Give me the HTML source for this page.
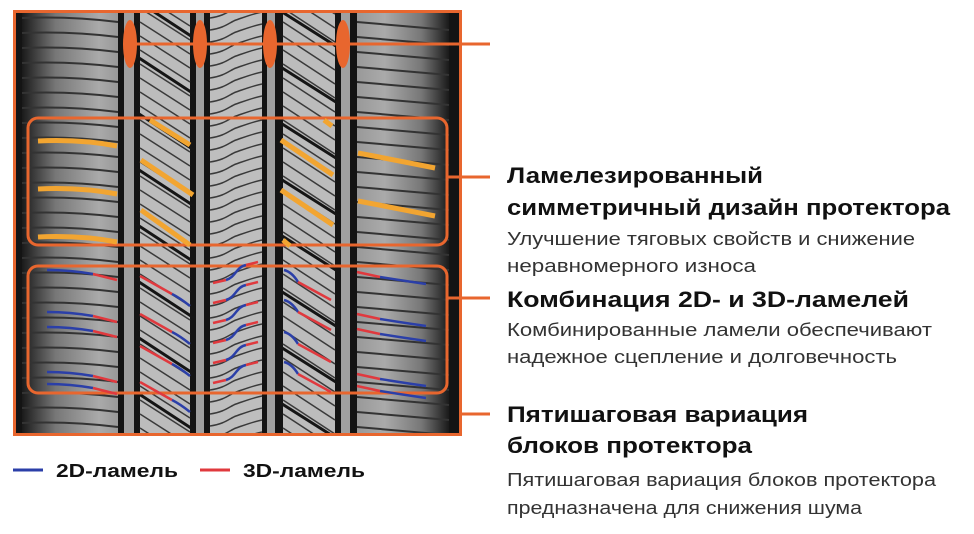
<!DOCTYPE html>
<html><head><meta charset="utf-8"><style>
html,body{margin:0;padding:0;background:#fff;width:974px;height:534px;overflow:hidden}
svg{display:block}
.h{font-family:"Liberation Sans","Noto Sans CJK SC",sans-serif;font-weight:bold;font-size:22px;fill:#111}
.s{font-family:"Liberation Sans","Noto Sans CJK SC",sans-serif;font-size:18px;fill:#333}
.l{font-family:"Liberation Sans","Noto Sans CJK SC",sans-serif;font-weight:bold;font-size:18px;fill:#111}
</style></head><body>
<svg id="sv" width="974" height="534" viewBox="0 0 974 534" xmlns="http://www.w3.org/2000/svg">
<defs>
<linearGradient id="shL" x1="0" x2="1"><stop offset="0" stop-color="#1a1a1a"/><stop offset="0.35" stop-color="#777"/><stop offset="0.8" stop-color="#aaa"/><stop offset="1" stop-color="#999"/></linearGradient>
<linearGradient id="shR" x1="0" x2="1"><stop offset="0" stop-color="#999"/><stop offset="0.3" stop-color="#aaa"/><stop offset="0.7" stop-color="#777"/><stop offset="1" stop-color="#1a1a1a"/></linearGradient>
<clipPath id="cp"><rect x="15" y="12" width="446" height="422"/></clipPath>
</defs>
<g clip-path="url(#cp)" id="tire">
<rect x="13" y="10" width="450" height="426" fill="#141414"/>
<rect x="22" y="10" width="96" height="426" fill="url(#shL)"/>
<rect x="357" y="10" width="92" height="426" fill="url(#shR)"/>
<rect x="140" y="10" width="50" height="426" fill="#bcbcbc"/>
<rect x="210" y="10" width="52" height="426" fill="#bebebe"/>
<rect x="283" y="10" width="52" height="426" fill="#bcbcbc"/>
<rect x="124" y="10" width="10" height="426" fill="#a0a0a0"/>
<rect x="196" y="10" width="8" height="426" fill="#a0a0a0"/>
<rect x="267" y="10" width="8" height="426" fill="#a0a0a0"/>
<rect x="341" y="10" width="9" height="426" fill="#a0a0a0"/>
</g>
<rect x="14.5" y="11.5" width="446" height="423" fill="none" stroke="#e8662e" stroke-width="3"/>
<g id="ov" fill="#e8662e">
<ellipse cx="130" cy="44" rx="7" ry="24"/><ellipse cx="200" cy="44" rx="7" ry="24"/><ellipse cx="270" cy="44" rx="7" ry="24"/><ellipse cx="343" cy="44" rx="7" ry="24"/>
</g>
<g stroke="#e8662e" stroke-width="3" fill="none">
<line x1="130" y1="44" x2="490" y2="44"/>
<rect x="28" y="118" width="419" height="127" rx="10"/>
<line x1="447" y1="177" x2="490" y2="177"/>
<rect x="28" y="266" width="419" height="127" rx="10"/>
<line x1="447" y1="298" x2="490" y2="298"/>
<line x1="462" y1="414" x2="490" y2="414"/>
</g>
<g id="yel" stroke="#f2a531" stroke-width="5" fill="none" stroke-linecap="butt">
<path d="M38 141 Q80 139 117 146"/><path d="M38 189 Q80 187 117 194"/><path d="M38 237 Q80 235 117 242"/>
<path d="M358 153 Q395 160 435 168"/><path d="M358 201 Q395 208 435 216"/>
<path d="M150 120 L190 145"/><path d="M141 160 L193 195"/><path d="M141 210 L190 245"/>
<path d="M281 140 L333 175"/><path d="M281 190 L333 225"/><path d="M324 120 L332 126"/><path d="M283 240 L290 246"/>
</g>
<g class="t">
<text class="h" x="507" y="183" textLength="256" lengthAdjust="spacingAndGlyphs">Ламелезированный</text>
<text class="h" x="507" y="215" textLength="443" lengthAdjust="spacingAndGlyphs">симметричный дизайн протектора</text>
<text class="s" x="507" y="245" textLength="408" lengthAdjust="spacingAndGlyphs">Улучшение тяговых свойств и снижение</text>
<text class="s" x="507" y="272" textLength="249" lengthAdjust="spacingAndGlyphs">неравномерного износа</text>
<text class="h" x="507" y="307" textLength="402" lengthAdjust="spacingAndGlyphs">Комбинация 2D- и 3D-ламелей</text>
<text class="s" x="507" y="336" textLength="425" lengthAdjust="spacingAndGlyphs">Комбинированные ламели обеспечивают</text>
<text class="s" x="507" y="363" textLength="390" lengthAdjust="spacingAndGlyphs">надежное сцепление и долговечность</text>
<text class="h" x="507" y="422" textLength="301" lengthAdjust="spacingAndGlyphs">Пятишаговая вариация</text>
<text class="h" x="507" y="453" textLength="245" lengthAdjust="spacingAndGlyphs">блоков протектора</text>
<text class="s" x="507" y="486" textLength="429" lengthAdjust="spacingAndGlyphs">Пятишаговая вариация блоков протектора</text>
<text class="s" x="507" y="514" textLength="355" lengthAdjust="spacingAndGlyphs">предназначена для снижения шума</text>
<line x1="13" y1="470" x2="43" y2="470" stroke="#2b3fa8" stroke-width="3"/>
<text class="l" x="56" y="477" textLength="122" lengthAdjust="spacingAndGlyphs">2D-ламель</text>
<line x1="200" y1="470" x2="230" y2="470" stroke="#e0393e" stroke-width="3"/>
<text class="l" x="243" y="477" textLength="122" lengthAdjust="spacingAndGlyphs">3D-ламель</text>
</g>
</svg>
<script>
(function(){
var NS="http://www.w3.org/2000/svg",tire=document.getElementById('tire'),sv=document.getElementById('sv'),ov=document.getElementById('ov');
function p(par,d,c,w){var e=document.createElementNS(NS,'path');e.setAttribute('d',d);e.setAttribute('stroke',c);e.setAttribute('stroke-width',w);e.setAttribute('fill','none');par.appendChild(e);return e;}
for(var y=18;y<440;y+=15){
 p(tire,'M22 '+y+' Q70 '+(y-2)+' 118 '+(y+4),'#333',2);
 p(tire,'M357 '+(y+4)+' Q405 '+(y+8)+' 449 '+(y+12),'#333',2);
}
for(var y=-20;y<450;y+=14){
 p(tire,'M140 '+y+' L190 '+(y+32),'#3a3a3a',1.5);
 p(tire,'M283 '+y+' L335 '+(y+34),'#3a3a3a',1.5);
}
for(var y=0;y<450;y+=56){
 p(tire,'M136 '+y+' L194 '+(y+38),'#151515',3);
 p(tire,'M279 '+(y+10)+' L339 '+(y+48),'#151515',3);
}
for(var y=10;y<450;y+=12){
 p(tire,'M210 '+(y+8)+' C225 '+(y+6)+' 230 '+y+' 236 '+(y-2)+' S252 '+(y-8)+' 262 '+(y-10),'#3a3a3a',1.5);
}
var B='#2b3fa8',R='#e0393e',L=sv;
[270,312,327,372,384].forEach(function(y){
 p(L,'M47 '+y+' Q70 '+y+' 93 '+(y+4),B,2.5);
 p(L,'M93 '+(y+4)+' L117 '+(y+10),R,2.5);
 var yy=y+2;
 p(L,'M357 '+(yy)+' L380 '+(yy+5),R,2.5);
 p(L,'M380 '+(yy+5)+' Q405 '+(yy+9)+' 426 '+(yy+12),B,2.5);
});
[282,320,352,388].forEach(function(y){
 p(L,'M140 '+(y-6)+' L172 '+(y+12),R,2.5);
 p(L,'M172 '+(y+12)+' Q180 '+(y+16)+' 190 '+(y+24),B,2.5);
});
[270,300,332,362].forEach(function(y){
 p(L,'M284 '+y+' Q292 '+(y+2)+' 298 '+(y+12),B,2.5);
 p(L,'M298 '+(y+12)+' L331 '+(y+30),R,2.5);
});
[275,295,315,335,355,375].forEach(function(y){
 p(L,'M213 '+(y+8)+' L226 '+(y+5),R,2.5);
 p(L,'M226 '+(y+5)+' C236 '+(y+2)+' 236 '+(y-8)+' 246 '+(y-10),B,2.5);
 p(L,'M246 '+(y-10)+' L258 '+(y-13),R,2.5);
});
sv.appendChild(ov);
})();
</script>
</body></html>
